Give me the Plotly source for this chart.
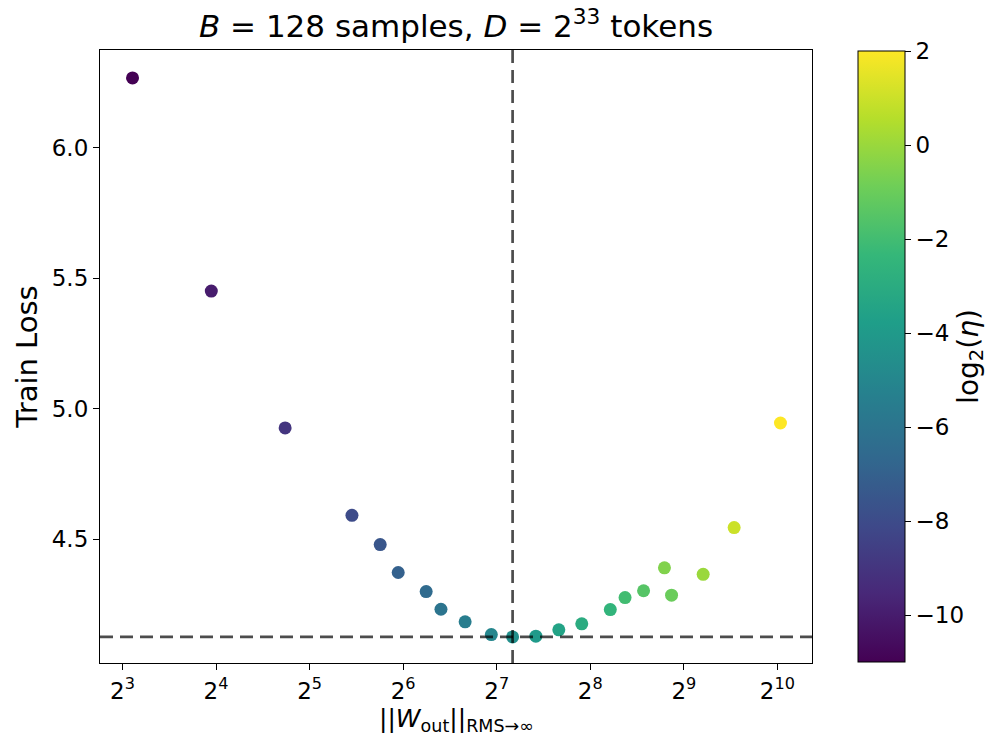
import plotly.graph_objects as go
import numpy as np

# Weight norm ||W_out||_{RMS->inf} (x), train loss (y), log2 learning rate (colour)
w_norm = [8.62, 15.45, 26.7, 43.8, 54.0, 61.7, 75.9, 84.7, 101.3, 123.0, 144.0,
          171.1, 202.8, 240.4, 297.0, 331.3, 380.0, 443.6, 467.5, 590.9, 743.3, 1047.7]
train_loss = [6.268, 5.451, 4.926, 4.591, 4.479, 4.372, 4.299, 4.231, 4.183, 4.134, 4.125,
              4.128, 4.152, 4.175, 4.230, 4.276, 4.302, 4.390, 4.285, 4.365, 4.544, 4.945]
log2_lr = [-11, -10, -9, -8, -7.5, -7, -6.5, -6, -5.5, -5, -4.5,
           -4, -3.5, -3, -2.5, -2, -1.5, -0.5, -1, 0, 1, 2]

x_ticks = [8, 16, 32, 64, 128, 256, 512, 1024]
x_ticktext = ["2<sup>3</sup>", "2<sup>4</sup>", "2<sup>5</sup>", "2<sup>6</sup>",
              "2<sup>7</sup>", "2<sup>8</sup>", "2<sup>9</sup>", "2<sup>10</sup>"]
y_ticks = [4.5, 5.0, 5.5, 6.0]
cbar_ticks = [-10, -8, -6, -4, -2, 0, 2]

x_range = [2 ** 2.76, 2 ** 10.37]
y_range = [4.025, 6.375]

FONT = "DejaVu Sans"
DASH_COLOR = "rgba(0,0,0,0.7)"

i_min = int(np.argmin(train_loss))

fig = go.Figure()
fig.add_trace(go.Scatter(
    x=w_norm, y=train_loss, mode="markers",
    marker=dict(size=13, color=log2_lr, colorscale="Viridis", cmin=-11, cmax=2,
                line=dict(width=0),
                colorbar=dict(
                    x=1.0646, xanchor="left", xref="paper", xpad=0, ypad=0,
                    y=0.5, yanchor="middle",
                    thickness=47, thicknessmode="pixels",
                    len=611, lenmode="pixels",
                    outlinecolor="black", outlinewidth=1,
                    tickvals=cbar_ticks, ticks="outside", ticklen=6, tickwidth=1,
                    tickcolor="black",
                    tickfont=dict(family=FONT, size=23, color="black"),
                    title=dict(text="log<sub>2</sub>(<i>η</i>)", side="right",
                               font=dict(family=FONT, size=28, color="black")),
                )),
    showlegend=False, hoverinfo="x+y",
))
# dashed reference lines through the minimum
fig.add_trace(go.Scatter(
    x=[w_norm[i_min], w_norm[i_min]], y=y_range, mode="lines",
    line=dict(color=DASH_COLOR, width=2.7, dash="13px,7px"), showlegend=False, hoverinfo="skip"))
fig.add_trace(go.Scatter(
    x=x_range, y=[train_loss[i_min], train_loss[i_min]], mode="lines",
    line=dict(color=DASH_COLOR, width=2.7, dash="13px,7px"), showlegend=False, hoverinfo="skip"))

fig.update_layout(
    width=989, height=736,
    margin=dict(l=100, r=177, t=50, b=73, autoexpand=False),
    paper_bgcolor="white", plot_bgcolor="white",
    font=dict(family=FONT, color="black"),
    title=dict(text="<i>B</i> = 128 samples, <i>D</i> = 2<sup>33</sup> tokens",
               x=0.5, xref="paper", xanchor="center",
               y=1, yref="container", yanchor="top", pad=dict(t=15),
               font=dict(family=FONT, size=31, color="black")),
    annotations=[dict(
        text="||<i>W</i><sub>out</sub>||<sub>RMS→∞</sub>",
        xref="paper", yref="paper", x=0.5, y=-0.093, xanchor="center", yanchor="middle",
        showarrow=False, font=dict(family=FONT, size=25, color="black"))],
)
fig.update_xaxes(
    type="log", range=[np.log10(x_range[0]), np.log10(x_range[1])],
    tickvals=x_ticks, ticktext=x_ticktext,
    ticks="outside", ticklen=6, tickwidth=1, tickcolor="black",
    tickfont=dict(family=FONT, size=23, color="black"), ticklabelstandoff=1,
    showline=True, linecolor="black", linewidth=1.2, mirror=True,
    showgrid=False, zeroline=False, automargin=False,
)
fig.update_yaxes(
    range=y_range, tickvals=y_ticks, tickformat=".1f",
    ticks="outside", ticklen=6, tickwidth=1, tickcolor="black",
    tickfont=dict(family=FONT, size=23, color="black"),
    showline=True, linecolor="black", linewidth=1.2, mirror=True,
    showgrid=False, zeroline=False, automargin=False,
    title=dict(text="Train Loss", font=dict(family=FONT, size=29, color="black"), standoff=5),
)

fig.write_html("out.html", config={"displayModeBar": False},
               post_script="document.body.style.margin='0px';")
